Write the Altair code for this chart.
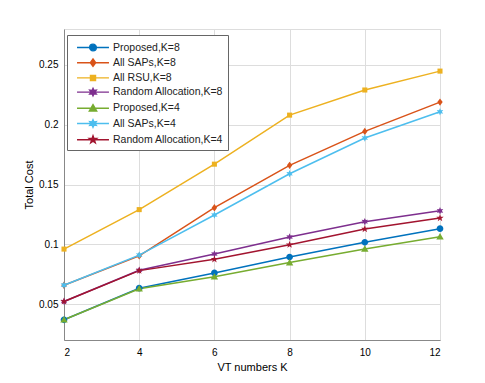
import altair as alt
import pandas as pd

vt = [2, 4, 6, 8, 10, 12]
series_names = [
    "Proposed,K=8",
    "All SAPs,K=8",
    "All RSU,K=8",
    "Random Allocation,K=8",
    "Proposed,K=4",
    "All SAPs,K=4",
    "Random Allocation,K=4",
]
proposed_k8 = [0.0369, 0.0633, 0.0761, 0.0894, 0.1017, 0.1131]
all_saps_k8 = [0.0658, 0.0903, 0.1306, 0.1660, 0.1944, 0.2189]
all_rsu_k8 = [0.0960, 0.1290, 0.1670, 0.2080, 0.2290, 0.2448]
random_k8 = [0.0522, 0.0783, 0.0919, 0.1061, 0.1189, 0.1280]
proposed_k4 = [0.0369, 0.0628, 0.0728, 0.0847, 0.0961, 0.1064]
all_saps_k4 = [0.0658, 0.0910, 0.1245, 0.1590, 0.1889, 0.2108]
random_k4 = [0.0522, 0.0780, 0.0875, 0.0997, 0.1128, 0.1220]

colors = ["#0072BD", "#D95319", "#EDB120", "#7E2F8E", "#77AC30", "#4DBEEE", "#A2142F"]

circle = "M-1,0A1,1,0,1,0,1,0A1,1,0,1,0,-1,0Z"
diamond = "M0,-1.1L0.8,0L0,1.1L-0.8,0Z"
square = "M-0.8,-0.8L0.8,-0.8L0.8,0.8L-0.8,0.8Z"
triangle = "M0,-1L1,0.75L-1,0.75Z"
hexagram = "M0,-1L0.25,-0.43L0.87,-0.5L0.5,0L0.87,0.5L0.25,0.43L0,1L-0.25,0.43L-0.87,0.5L-0.5,0L-0.87,-0.5L-0.25,-0.43Z"
pentagram = "M0,-1L0.235,-0.324L0.951,-0.309L0.38,0.124L0.588,0.809L0,0.4L-0.588,0.809L-0.38,0.124L-0.951,-0.309L-0.235,-0.324Z"
shapes = [circle, diamond, square, hexagram, triangle, hexagram, pentagram]
marker_sizes = [45, 45, 40, 55, 55, 55, 60]


def transform_path(path, s, dx):
    # scale a normalized path by s and shift it horizontally by dx
    num = ""
    tokens = []
    for ch in path:
        if ch.isalpha():
            if num:
                tokens.append(num)
                num = ""
            tokens.append(ch)
        elif ch == ",":
            if num:
                tokens.append(num)
                num = ""
        else:
            num += ch
    if num:
        tokens.append(num)
    res = []
    i = 0
    while i < len(tokens):
        t = tokens[i]
        if t in ("M", "L"):
            x = float(tokens[i + 1]) * s + dx
            y = float(tokens[i + 2]) * s
            res.append(f"{t}{round(x, 4)},{round(y, 4)}")
            i += 3
        elif t == "A":
            rx = float(tokens[i + 1]) * s
            ry = float(tokens[i + 2]) * s
            a, f1, f2 = tokens[i + 3], tokens[i + 4], tokens[i + 5]
            x = float(tokens[i + 6]) * s + dx
            y = float(tokens[i + 7]) * s
            res.append(f"A{round(rx, 4)},{round(ry, 4)},{a},{f1},{f2},{round(x, 4)},{round(y, 4)}")
            i += 8
        elif t == "Z":
            res.append("Z")
            i += 1
        else:
            i += 1
    return "".join(res)


# legend symbol: a line with the marker in its middle (symbol box is -1..1 = 15px)
legend_paths = []
for p, ms in zip(shapes, marker_sizes):
    r = (ms ** 0.5) / 15.0
    legend_paths.append("M-0.33,0L3.93,0" + transform_path(p, r, 1.8))

all_vals = [proposed_k8, all_saps_k8, all_rsu_k8, random_k8, proposed_k4, all_saps_k4, random_k4]
rows = []
for name, vals in zip(series_names, all_vals):
    for x, y in zip(vt, vals):
        rows.append({"VT": x, "cost": y, "series": name})
df = pd.DataFrame(rows)

xenc = alt.X("VT:Q", scale=alt.Scale(domain=[2, 12], nice=False),
             axis=alt.Axis(values=vt, title="VT numbers K", grid=True,
                           titleFontWeight="normal", ticks=False, labelPadding=7))
yenc = alt.Y("cost:Q", scale=alt.Scale(domain=[0.02, 0.28], nice=False, zero=False),
             axis=alt.Axis(values=[0.05, 0.1, 0.15, 0.2, 0.25], title="Total Cost",
                           titleFontWeight="normal", ticks=False, labelPadding=6,
                           titlePadding=4,
                           labelExpr="format(datum.value, '.2~f')"))
cscale = alt.Scale(domain=series_names, range=colors)

leg = alt.Legend(
    title=None, orient="none", legendX=3, legendY=6,
    fillColor="white", strokeColor="#666", padding=4,
    symbolSize=225, symbolOpacity=1, symbolStrokeWidth=1.4,
    labelFontSize=10.5, labelColor="#222", rowPadding=0.2, labelOffset=25,
    labelFont="Liberation Sans",
)

lines = alt.Chart(df).mark_line(strokeWidth=1.5).encode(
    x=xenc, y=yenc,
    color=alt.Color("series:N", scale=cscale, legend=leg),
    detail="series:N",
)

point_layers = []
for name, shp, ms, col in zip(series_names, shapes, marker_sizes, colors):
    point_layers.append(
        alt.Chart(df).transform_filter(alt.datum.series == name).mark_point(
            filled=True, size=ms, opacity=1, shape=shp, color=col
        ).encode(x=xenc, y=yenc)
    )

legend_layer = alt.Chart(df).transform_filter("false").mark_point(filled=True, strokeWidth=1.4).encode(
    x=xenc, y=yenc,
    color=alt.Color("series:N", scale=cscale, legend=leg),
    stroke=alt.Stroke("series:N", scale=cscale, legend=leg),
    shape=alt.Shape("series:N", scale=alt.Scale(domain=series_names, range=legend_paths), legend=leg),
)

chart = alt.layer(lines, *point_layers, legend_layer).properties(
    width=376, height=311
).configure_view(
    stroke="#555", strokeWidth=1
).configure_axis(
    labelFont="Liberation Sans", titleFont="Liberation Sans",
    labelFontSize=11, titleFontSize=11, labelColor="#262626", titleColor="#262626",
    gridColor="#e6e6e6", domain=False,
).configure(padding={"left": 15, "top": 21, "right": 5, "bottom": 5})

chart.save("out.html", embed_options={"renderer": "svg", "actions": False})
